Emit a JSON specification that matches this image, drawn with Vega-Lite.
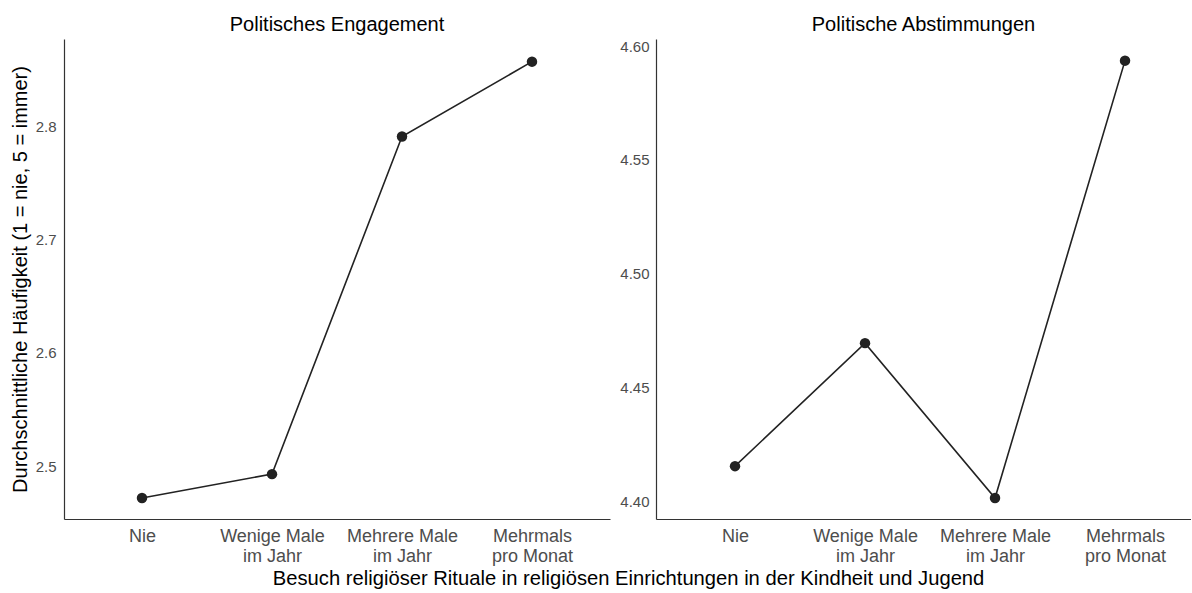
{
  "$schema": "https://vega.github.io/schema/vega-lite/v6.json",
  "background": "white",
  "padding": {"left": 10, "top": 15, "right": 0, "bottom": 0},
  "config": {
    "view": {"stroke": null},
    "font": "Liberation Sans",
    "axis": {
      "grid": false,
      "ticks": false,
      "tickSize": 0,
      "domainColor": "#333333",
      "domainWidth": 1.2,
      "labelFont": "Liberation Sans",
      "titleFont": "Liberation Sans",
      "titleFontWeight": "normal",
      "titleColor": "black",
      "labelColor": "#4d4d4d"
    },
    "title": {"font": "Liberation Sans", "fontWeight": "normal", "fontSize": 20, "color": "black"}
  },
  "title": {
    "text": "Besuch religiöser Rituale in religiösen Einrichtungen in der Kindheit und Jugend",
    "orient": "bottom",
    "anchor": "middle",
    "dx": 28,
    "offset": 4,
    "fontSize": 20.2
  },
  "data": {
    "values": [
      {"panel": "Politisches Engagement", "besuch": "Nie", "mittelwert": 2.472},
      {"panel": "Politisches Engagement", "besuch": "Wenige Male im Jahr", "mittelwert": 2.493},
      {"panel": "Politisches Engagement", "besuch": "Mehrere Male im Jahr", "mittelwert": 2.791},
      {"panel": "Politisches Engagement", "besuch": "Mehrmals pro Monat", "mittelwert": 2.857},
      {"panel": "Politische Abstimmungen", "besuch": "Nie", "mittelwert": 4.4156},
      {"panel": "Politische Abstimmungen", "besuch": "Wenige Male im Jahr", "mittelwert": 4.4696},
      {"panel": "Politische Abstimmungen", "besuch": "Mehrere Male im Jahr", "mittelwert": 4.4016},
      {"panel": "Politische Abstimmungen", "besuch": "Mehrmals pro Monat", "mittelwert": 4.5936}
    ]
  },
  "spacing": 9,
  "hconcat": [
    {
      "width": 546,
      "height": 480,
      "title": {"text": "Politisches Engagement", "anchor": "middle", "offset": 4},
      "transform": [{"filter": "datum.panel == 'Politisches Engagement'"}],
      "encoding": {
        "x": {
          "field": "besuch",
          "type": "ordinal",
          "sort": ["Nie", "Wenige Male im Jahr", "Mehrere Male im Jahr", "Mehrmals pro Monat"],
          "scale": {"type": "point", "padding": 0.6},
          "axis": {
            "title": null,
            "labelAngle": 0,
            "labelFontSize": 18,
            "labelLineHeight": 20,
            "labelPadding": 8,
            "labelBaseline": "top",
            "labelExpr": "datum.value == 'Wenige Male im Jahr' ? ['Wenige Male', 'im Jahr'] : datum.value == 'Mehrere Male im Jahr' ? ['Mehrere Male', 'im Jahr'] : datum.value == 'Mehrmals pro Monat' ? ['Mehrmals', 'pro Monat'] : datum.label"
          }
        },
        "y": {
          "field": "mittelwert",
          "type": "quantitative",
          "scale": {"domain": [2.4534, 2.877], "nice": false, "zero": false},
          "axis": {
            "title": "Durchschnittliche Häufigkeit (1 = nie, 5 = immer)",
            "titleFontSize": 20,
            "titlePadding": 5,
            "values": [2.5, 2.6, 2.7, 2.8],
            "format": ".1f",
            "labelFontSize": 15,
            "labelPadding": 8
          }
        }
      },
      "layer": [
        {"mark": {"type": "line", "color": "#222222", "strokeWidth": 1.6}},
        {"mark": {"type": "point", "filled": true, "color": "#222222", "opacity": 1, "size": 110}}
      ]
    },
    {
      "width": 535,
      "height": 480,
      "title": {"text": "Politische Abstimmungen", "anchor": "middle", "offset": 4},
      "transform": [{"filter": "datum.panel == 'Politische Abstimmungen'"}],
      "encoding": {
        "x": {
          "field": "besuch",
          "type": "ordinal",
          "sort": ["Nie", "Wenige Male im Jahr", "Mehrere Male im Jahr", "Mehrmals pro Monat"],
          "scale": {"type": "point", "padding": 0.5577, "align": 0.545},
          "axis": {
            "title": null,
            "labelAngle": 0,
            "labelFontSize": 18,
            "labelLineHeight": 20,
            "labelPadding": 8,
            "labelBaseline": "top",
            "labelExpr": "datum.value == 'Wenige Male im Jahr' ? ['Wenige Male', 'im Jahr'] : datum.value == 'Mehrere Male im Jahr' ? ['Mehrere Male', 'im Jahr'] : datum.value == 'Mehrmals pro Monat' ? ['Mehrmals', 'pro Monat'] : datum.label"
          }
        },
        "y": {
          "field": "mittelwert",
          "type": "quantitative",
          "scale": {"domain": [4.3924, 4.6031], "nice": false, "zero": false},
          "axis": {
            "title": null,
            "values": [4.4, 4.45, 4.5, 4.55, 4.6],
            "format": ".2f",
            "labelFontSize": 15,
            "labelPadding": 7
          }
        }
      },
      "layer": [
        {"mark": {"type": "line", "color": "#222222", "strokeWidth": 1.6}},
        {"mark": {"type": "point", "filled": true, "color": "#222222", "opacity": 1, "size": 110}}
      ]
    }
  ]
}
